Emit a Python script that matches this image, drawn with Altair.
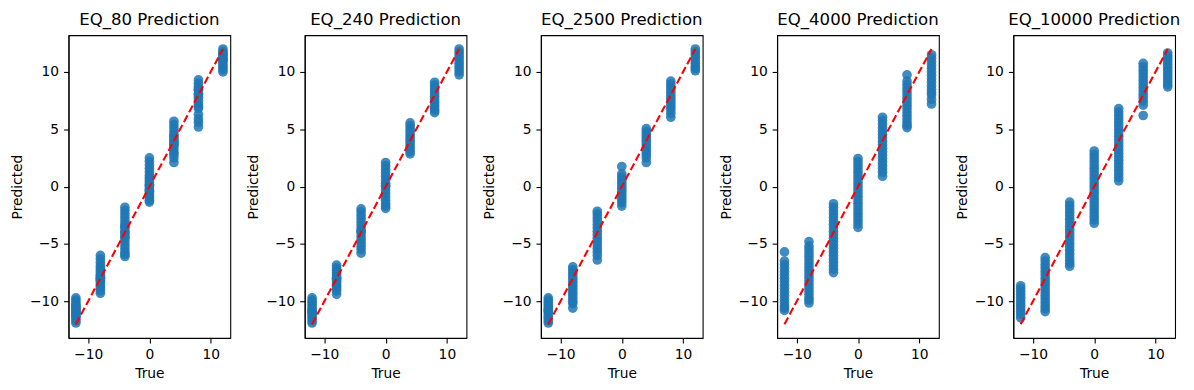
import altair as alt
import pandas as pd

true_levels = [-12, -8, -4, 0, 4, 8, 12]
diag = [-12, 12]
x_ticks = [-10, 0, 10]
y_ticks = [-10, -5, 0, 5, 10]
titles = ["EQ_80", "EQ_240", "EQ_2500", "EQ_4000", "EQ_10000"]

eq80_pred = [
    [-9.7, -9.9, -10.1, -10.3, -10.5, -10.7, -10.9, -11.1, -11.3, -11.5, -11.7, -11.9, -10.4, -10.8, -11.2, -11.0, -10.6],
    [-6.0, -6.3, -6.6, -6.9, -7.1, -7.3, -7.5, -7.7, -7.9, -8.1, -8.3, -8.5, -8.7, -8.9, -9.1, -9.3, -7.8, -8.0, -8.2],
    [-1.8, -2.1, -2.4, -2.7, -3.0, -3.3, -3.6, -3.9, -4.2, -4.5, -4.8, -5.1, -5.4, -5.7, -5.9, -6.1, -4.0, -4.4, -3.5],
    [2.5, 2.2, 1.9, 1.6, 1.3, 1.0, 0.8, 0.6, 0.4, 0.2, 0.0, -0.2, -0.4, -0.6, -0.8, -1.0, -1.2, -1.35, 0.1, -0.3],
    [5.7, 5.4, 5.1, 4.8, 4.5, 4.2, 3.9, 3.6, 3.3, 3.0, 2.8, 2.5, 2.1, 4.0, 4.4, 3.7],
    [9.3, 9.0, 8.7, 8.4, 8.1, 7.8, 7.5, 7.2, 7.0, 6.8, 6.3, 5.9, 5.6, 5.2, 8.0, 8.5],
    [12.0, 11.8, 11.6, 11.4, 11.2, 11.0, 10.8, 10.6, 10.4, 10.2, 10.0, 11.5, 11.1],
]
eq240_pred = [
    [-9.7, -9.9, -10.1, -10.3, -10.5, -10.7, -10.9, -11.1, -11.3, -11.5, -11.7, -11.9, -10.8, -11.0],
    [-6.85, -7.1, -7.3, -7.5, -7.7, -7.9, -8.1, -8.3, -8.5, -8.7, -8.9, -9.1, -9.4, -8.0],
    [-1.95, -2.2, -2.5, -2.8, -3.1, -3.4, -3.7, -4.0, -4.3, -4.6, -4.9, -5.2, -5.5, -5.8, -3.9],
    [2.1, 1.8, 1.5, 1.2, 0.9, 0.6, 0.3, 0.0, -0.3, -0.6, -0.9, -1.2, -1.5, -1.7, -1.9, 0.1],
    [5.55, 5.3, 5.05, 4.8, 4.55, 4.3, 4.05, 3.8, 3.55, 3.3, 3.05, 2.85],
    [9.1, 8.85, 8.6, 8.35, 8.1, 7.85, 7.6, 7.35, 7.1, 6.85, 6.65, 6.45],
    [12.0, 11.75, 11.5, 11.25, 11.0, 10.75, 10.5, 10.25, 10.0, 9.75],
]
eq2500_pred = [
    [-9.7, -9.9, -10.1, -10.3, -10.5, -10.7, -10.9, -11.1, -11.3, -11.5, -11.7, -11.9, -10.8],
    [-7.0, -7.25, -7.5, -7.75, -8.0, -8.25, -8.5, -8.75, -9.0, -9.25, -9.5, -9.75, -10.0, -10.2, -10.6],
    [-2.15, -2.4, -2.7, -3.0, -3.3, -3.6, -3.9, -4.2, -4.5, -4.8, -5.1, -5.4, -5.7, -6.0, -6.4],
    [1.75, 1.1, 0.85, 0.6, 0.35, 0.1, -0.15, -0.4, -0.65, -0.9, -1.15, -1.4, -1.7],
    [5.05, 4.8, 4.55, 4.3, 4.05, 3.8, 3.55, 3.3, 3.05, 2.8, 2.5, 2.1],
    [9.2, 8.95, 8.7, 8.45, 8.2, 7.95, 7.7, 7.45, 7.2, 6.95, 6.7, 6.4, 6.05],
    [12.0, 11.75, 11.5, 11.25, 11.0, 10.75, 10.5, 10.3, 10.1],
]
eq4000_pred = [
    [-5.7, -6.5, -6.8, -7.1, -7.4, -7.7, -8.0, -8.3, -8.6, -8.9, -9.2, -9.5, -9.8, -10.1, -10.4, -10.6, -10.8],
    [-4.8, -5.2, -5.5, -5.8, -6.1, -6.4, -6.7, -7.0, -7.3, -7.6, -7.9, -8.2, -8.5, -8.8, -9.1, -9.4, -9.7, -9.9, -10.15],
    [-1.5, -1.8, -2.1, -2.4, -2.7, -3.0, -3.3, -3.6, -3.9, -4.2, -4.5, -4.8, -5.1, -5.4, -5.7, -6.0, -6.3, -6.6, -6.9, -7.2, -7.5],
    [2.45, 2.15, 1.85, 1.55, 1.25, 0.95, 0.65, 0.35, 0.05, -0.25, -0.55, -0.85, -1.15, -1.45, -1.75, -2.05, -2.35, -2.65, -2.95, -3.25, -3.55],
    [6.05, 5.75, 5.45, 5.15, 4.85, 4.55, 4.25, 3.95, 3.65, 3.35, 3.05, 2.75, 2.45, 2.15, 1.85, 1.55, 1.25, 0.9],
    [9.75, 9.2, 8.9, 8.6, 8.3, 8.0, 7.7, 7.4, 7.1, 6.8, 6.5, 6.2, 5.9, 5.6, 5.35, 5.15],
    [11.5, 11.2, 10.9, 10.6, 10.3, 10.0, 9.7, 9.4, 9.1, 8.8, 8.5, 8.2, 8.0, 7.6, 7.2],
]
eq10000_pred = [
    [-8.65, -8.9, -9.15, -9.4, -9.65, -9.9, -10.15, -10.4, -10.65, -10.9, -11.15, -11.45],
    [-6.2, -6.5, -6.8, -7.1, -7.4, -7.7, -8.0, -8.3, -8.6, -8.9, -9.2, -9.5, -9.8, -10.1, -10.4, -10.65, -10.9],
    [-1.35, -1.65, -1.95, -2.25, -2.55, -2.85, -3.15, -3.45, -3.75, -4.05, -4.35, -4.65, -4.95, -5.25, -5.55, -5.85, -6.15, -6.45, -6.7, -6.95],
    [3.1, 2.8, 2.5, 2.2, 1.9, 1.6, 1.3, 1.0, 0.7, 0.4, 0.1, -0.2, -0.5, -0.8, -1.1, -1.4, -1.7, -2.0, -2.3, -2.6, -2.9, -3.2],
    [6.8, 6.5, 6.2, 5.9, 5.6, 5.3, 5.0, 4.7, 4.4, 4.1, 3.8, 3.5, 3.2, 2.9, 2.6, 2.3, 2.0, 1.7, 1.4, 1.1, 0.8, 0.5],
    [10.75, 10.45, 10.15, 9.85, 9.55, 9.25, 8.95, 8.65, 8.35, 8.05, 7.75, 7.45, 7.1, 6.2],
    [11.65, 11.4, 11.15, 10.9, 10.65, 10.4, 10.15, 9.9, 9.65, 9.4, 9.15, 8.9, 8.7],
]

all_preds = [eq80_pred, eq240_pred, eq2500_pred, eq4000_pred, eq10000_pred]

DOMAIN = [-13.2, 13.2]


def panel(name, preds):
    rows = [{"true": t, "pred": p} for t, ps in zip(true_levels, preds) for p in ps]
    df = pd.DataFrame(rows)
    line_df = pd.DataFrame({"true": diag, "pred": diag})
    x = alt.X("true:Q", scale=alt.Scale(domain=DOMAIN, nice=False, zero=False),
              axis=alt.Axis(values=x_ticks, title="True"))
    y = alt.Y("pred:Q", scale=alt.Scale(domain=DOMAIN, nice=False, zero=False),
              axis=alt.Axis(values=y_ticks, title="Predicted"))
    pts = alt.Chart(df).mark_circle(size=95, color="#1f77b4", opacity=0.85).encode(x=x, y=y)
    line = alt.Chart(line_df).mark_line(color="red", strokeDash=[7.7, 3.3], strokeWidth=2.1).encode(x=x, y=y)
    return alt.layer(pts, line).properties(
        width=163, height=305,
        title=alt.TitleParams(f"{name} Prediction", anchor="middle", frame="group",
                              baseline="alphabetic", offset=-6, fontSize=16.7,
                              fontWeight="normal", font="DejaVu Sans", color="black"),
    )


chart = alt.hconcat(*[panel(n, p) for n, p in zip(titles, all_preds)], spacing=75, bounds="flush").properties(
    padding={"left": 2, "top": 1, "right": 5, "bottom": 5}
).configure_view(stroke="black", strokeWidth=1.1).configure_axis(
    grid=False,
    labelFont="DejaVu Sans", labelFontSize=13.9, labelColor="black", labelPadding=5,
    titleFont="DejaVu Sans", titleFontSize=13.9, titleFontWeight="normal", titleColor="black",
    titlePadding=5,
    tickColor="black", tickSize=5, tickWidth=1.1,
    domainColor="black", domainWidth=1.1,
)

chart.save("out.html", embed_options={"renderer": "svg", "actions": False})
